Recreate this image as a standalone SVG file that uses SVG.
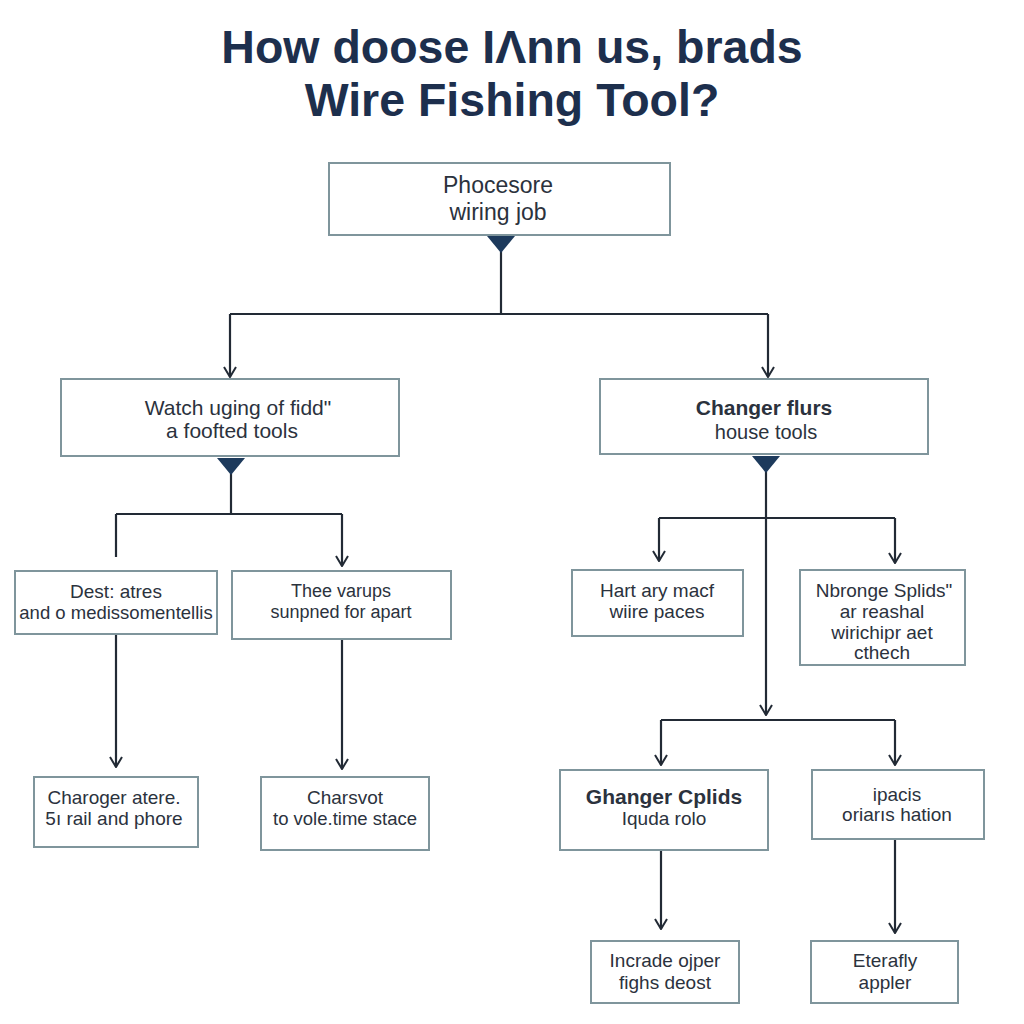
<svg xmlns="http://www.w3.org/2000/svg" width="1024" height="1024" viewBox="0 0 1024 1024">
<defs>
<style>
.title{font-family:"Liberation Sans",Arial,sans-serif;font-weight:bold;font-size:46.5px;fill:#1d2f4d;text-anchor:middle}
.box{fill:#ffffff;stroke:#7f959c;stroke-width:2}
.t{font-family:"Liberation Sans",Arial,sans-serif;font-size:19px;fill:#2b323d;text-anchor:middle}
.b{font-weight:bold;font-size:21px}
.ln{fill:none;stroke:#222a35;stroke-width:2.2}
.tri{fill:#1d3a5c}
</style>
<marker id="arr" viewBox="0 0 12 14" refX="11" refY="7" markerWidth="12" markerHeight="14" markerUnits="userSpaceOnUse" orient="auto">
<polyline points="1,1 11,7 1,13" fill="none" stroke="#222a35" stroke-width="2"/>
</marker>
</defs>
<rect width="1024" height="1024" fill="#ffffff"/>
<text class="title" x="512" y="63">How doose IΛnn us, brads</text>
<text class="title" x="512" y="116">Wire Fishing Tool?</text>

<g id="connectors">
<polyline class="ln" points="501,250 501,314"/>
<polyline class="ln" points="230,314 768,314"/>
<polyline class="ln" points="230,314 230,377" marker-end="url(#arr)"/>
<polyline class="ln" points="768,314 768,377" marker-end="url(#arr)"/>
<polyline class="ln" points="231,472 231,514"/>
<polyline class="ln" points="116,514 342,514"/>
<polyline class="ln" points="116,514 116,557"/>
<polyline class="ln" points="342,514 342,566" marker-end="url(#arr)"/>
<polyline class="ln" points="116,634 116,767" marker-end="url(#arr)"/>
<polyline class="ln" points="342,639 342,769" marker-end="url(#arr)"/>
<polyline class="ln" points="766,470 766,715" marker-end="url(#arr)"/>
<polyline class="ln" points="659,518 895,518"/>
<polyline class="ln" points="659,518 659,561" marker-end="url(#arr)"/>
<polyline class="ln" points="895,518 895,563" marker-end="url(#arr)"/>
<polyline class="ln" points="661,720 895,720"/>
<polyline class="ln" points="661,720 661,765" marker-end="url(#arr)"/>
<polyline class="ln" points="895,720 895,765" marker-end="url(#arr)"/>
<polyline class="ln" points="661,850 661,929" marker-end="url(#arr)"/>
<polyline class="ln" points="895,839 895,933" marker-end="url(#arr)"/>
</g>

<g id="n-top">
<rect class="box" x="329" y="163" width="341" height="72"/>
<text class="t" x="498" y="193" style="font-size:23px">Phocesore</text>
<text class="t" x="498" y="220" style="font-size:23px">wiring job</text>
<polygon class="tri" points="487,236 515,236 501,253"/>
</g>

<g id="n-left">
<rect class="box" x="61" y="379" width="338" height="77"/>
<text class="t" x="238" y="415" style="font-size:21px">Watch uging of fidd"</text>
<text class="t" x="232" y="438" style="font-size:21px">a foofted tools</text>
<polygon class="tri" points="217,458 245,458 231,475"/>
</g>

<g id="n-right">
<rect class="box" x="600" y="379" width="328" height="75"/>
<text class="t b" x="764" y="415">Changer flurs</text>
<text class="t" x="766" y="439" style="font-size:20px">house tools</text>
<polygon class="tri" points="752,456 780,456 766,473"/>
</g>

<g id="n-l2a">
<rect class="box" x="15" y="571" width="202" height="63"/>
<text class="t" x="116" y="598">Dest: atres</text>
<text class="t" x="116" y="619" style="font-size:18.5px">and o medissomentellis</text>
</g>

<g id="n-l2b">
<rect class="box" x="232" y="571" width="219" height="68"/>
<text class="t" x="341" y="597" style="font-size:18px">Thee varups</text>
<text class="t" x="341" y="618" style="font-size:18px">sunpned for apart</text>
</g>

<g id="n-l3a">
<rect class="box" x="34" y="777" width="164" height="70"/>
<text class="t" x="114" y="804">Charoger atere.</text>
<text class="t" x="114" y="825">5ı rail and phore</text>
</g>

<g id="n-l3b">
<rect class="box" x="261" y="777" width="168" height="73"/>
<text class="t" x="345" y="804">Charsvot</text>
<text class="t" x="345" y="825" style="font-size:18.5px">to vole.time stace</text>
</g>

<g id="n-r2a">
<rect class="box" x="572" y="570" width="171" height="66"/>
<text class="t" x="657" y="597">Hart ary macf</text>
<text class="t" x="657" y="618">wiire paces</text>
</g>

<g id="n-r2b">
<rect class="box" x="800" y="570" width="165" height="95"/>
<text class="t" x="884" y="597">Nbronge Splids"</text>
<text class="t" x="882" y="618">ar reashal</text>
<text class="t" x="882" y="639">wirichipr aet</text>
<text class="t" x="882" y="659">cthech</text>
</g>

<g id="n-r3a">
<rect class="box" x="560" y="770" width="208" height="80"/>
<text class="t b" x="664" y="804">Ghanger Cplids</text>
<text class="t" x="664" y="825">Iquda rolo</text>
</g>

<g id="n-r3b">
<rect class="box" x="812" y="770" width="172" height="69"/>
<text class="t" x="897" y="801">ipacis</text>
<text class="t" x="897" y="821">oriarıs hation</text>
</g>

<g id="n-r4a">
<rect class="box" x="591" y="941" width="148" height="62"/>
<text class="t" x="665" y="967">Incrade ojper</text>
<text class="t" x="665" y="989">fighs deost</text>
</g>

<g id="n-r4b">
<rect class="box" x="811" y="941" width="147" height="62"/>
<text class="t" x="885" y="967">Eterafly</text>
<text class="t" x="885" y="989">appler</text>
</g>
</svg>
